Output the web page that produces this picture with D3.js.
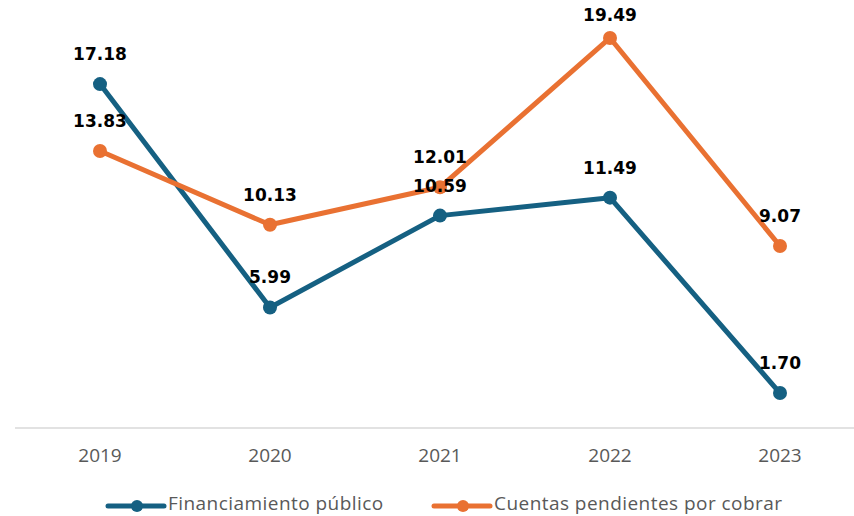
<!DOCTYPE html>
<html>
<head>
<meta charset="utf-8">
<script src="https://cdn.jsdelivr.net/npm/d3@7"></script>
<style>
  html, body { margin: 0; padding: 0; background: #fff; }
  svg { display: block; }
</style>
</head>
<body>
<svg id="chart" width="854" height="516"></svg>
<script>
// Años y series
const years = ["2019", "2020", "2021", "2022", "2023"];
const financiamiento = [17.18, 5.99, 10.59, 11.49, 1.70];
const cuentas = [13.83, 10.13, 12.01, 19.49, 9.07];
const seriesNames = ["Financiamiento público", "Cuentas pendientes por cobrar"];
const seriesColors = ["#156082", "#E97132"];

const svg = d3.select("#chart");
const W = 854, H = 516;
const textFont = "'Open Sans', 'Noto Sans', sans-serif";
const labelFont = "'DejaVu Sans', sans-serif";

const x = d3.scaleBand().domain(years).range([15, 865]);
const y = d3.scaleLinear().domain([0, 20]).range([427, 27.8]);

// Eje horizontal
svg.append("line")
  .attr("x1", 15).attr("x2", W)
  .attr("y1", 428).attr("y2", 428)
  .attr("stroke", "#d9d9d9").attr("stroke-width", 1.5);

const xAxis = d3.axisBottom(x).tickSize(0).tickPadding(0);
const gx = svg.append("g").attr("transform", "translate(0,455)").call(xAxis);
gx.select(".domain").remove();
gx.selectAll("text")
  .attr("y", 0)
  .attr("dy", "0.35em")
  .style("font-family", textFont)
  .style("font-size", "19px")
  .style("fill", "#595959");

const data = [financiamiento, cuentas];
const cx = d => x(d) + x.bandwidth() / 2;

const line = d3.line()
  .x((d, i) => cx(years[i]))
  .y(d => y(d));

data.forEach((vals, s) => {
  const g = svg.append("g");
  g.append("path")
    .datum(vals)
    .attr("d", line)
    .attr("fill", "none")
    .attr("stroke", seriesColors[s])
    .attr("stroke-width", 5)
    .attr("stroke-linejoin", "round");
  g.selectAll("circle").data(vals).enter().append("circle")
    .attr("cx", (d, i) => cx(years[i]))
    .attr("cy", d => y(d))
    .attr("r", 7)
    .attr("fill", seriesColors[s]);
});

// Etiquetas de valores (por encima de cada punto, sin salir del borde superior)
data.forEach((vals, s) => {
  svg.append("g").selectAll("text").data(vals).enter().append("text")
    .attr("x", (d, i) => cx(years[i]))
    .attr("y", d => Math.max(15, y(d) - 30))
    .attr("dy", "0.35em")
    .attr("text-anchor", "middle")
    .style("font-family", labelFont)
    .style("font-size", "17px")
    .style("font-weight", "bold")
    .style("fill", "#000")
    .text(d => d.toFixed(2));
});

// Leyenda
const legendX = [108, 434];
seriesNames.forEach((name, s) => {
  const g = svg.append("g").attr("transform", `translate(${legendX[s]},506)`);
  g.append("line").attr("x1", 0).attr("x2", 56).attr("y1", 0).attr("y2", 0)
    .attr("stroke", seriesColors[s]).attr("stroke-width", 5).attr("stroke-linecap", "round");
  g.append("circle").attr("cx", 29).attr("cy", 0).attr("r", 6).attr("fill", seriesColors[s]);
  g.append("text").attr("x", 60).attr("y", 4)
    .style("font-family", textFont)
    .style("font-size", "19px")
    .style("letter-spacing", "0.45px")
    .style("fill", "#595959")
    .text(name);
});
</script>
</body>
</html>
